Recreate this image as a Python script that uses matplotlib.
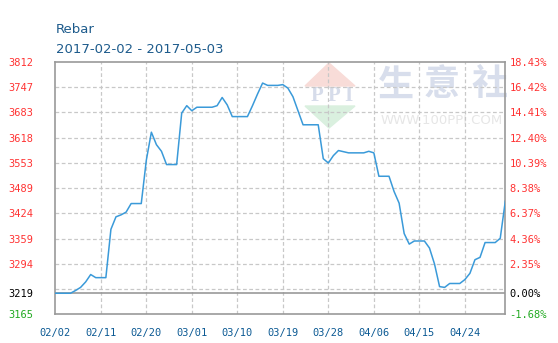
import numpy as np
import matplotlib
matplotlib.use("Agg")
import matplotlib.pyplot as plt
from matplotlib.patches import Polygon

# daily rebar price, 2017-02-02 onward (one value per calendar day)
prices = [
    3219, 3219, 3219, 3219, 3226, 3234, 3248, 3267, 3259, 3259,
    3259, 3383, 3415, 3420, 3427, 3449, 3449, 3449, 3560, 3632,
    3600, 3583, 3549, 3549, 3549, 3681, 3700, 3687, 3696, 3696,
    3696, 3696, 3700, 3721, 3702, 3672, 3672, 3672, 3672, 3700,
    3730, 3758, 3752, 3752, 3752, 3754, 3745, 3723, 3687, 3651,
    3651, 3651, 3651, 3564, 3553, 3572, 3585, 3582, 3579, 3579,
    3579, 3579, 3583, 3579, 3519, 3519, 3519, 3480, 3450, 3372,
    3345, 3353, 3353, 3353, 3335, 3294, 3236, 3234, 3244, 3244,
    3244, 3254, 3270, 3305, 3311, 3349, 3349, 3349, 3360, 3455,
]
base_price = 3219

x_labels = ['02/02', '02/11', '02/20', '03/01', '03/10', '03/19',
            '03/28', '04/06', '04/15', '04/24']
left_labels = ['3165', '3219', '3294', '3359', '3424', '3489',
               '3553', '3618', '3683', '3747', '3812']
right_labels = ['-1.68%', '0.00%', '2.35%', '4.36%', '6.37%', '8.38%',
                '10.39%', '12.40%', '14.41%', '16.42%', '18.43%']

title = 'Rebar'
subtitle = '2017-02-02 - 2017-05-03'

y_lo, y_hi = 3165, 3812
days = np.arange(len(prices))
x_ticks = np.arange(0, len(prices), 9)
y_ticks = [float(v) for v in left_labels]

W, H = 558, 343
fig = plt.figure(figsize=(W / 100, H / 100), dpi=100)
ax = fig.add_axes([55.3 / W, 1 - 314.3 / H, 450 / W, 252.3 / H])

grid_c = '#c8c8c8'
border_c = '#999999'


def px(x, y):
    # pixel position -> figure fraction
    return [x / W, 1 - y / H]


# watermark (logo + site name), under the grid
ft = fig.transFigure
ax.add_patch(Polygon([px(305, 86), px(329, 63), px(355, 86)], closed=True,
                     transform=ft, color='#f8dcd8', zorder=0.5))
ax.add_patch(Polygon([px(305, 106), px(329, 128), px(355, 106)], closed=True,
                     transform=ft, color='#daf0df', zorder=0.5))
for ch, cx in zip('PPI', [317, 334, 348]):
    ax.text(*px(cx, 96.5), ch, transform=ft, ha='center', va='center', fontsize=15,
            family='Liberation Serif', weight='bold', color='#d6dcea', zorder=0.5)
for ch, cx in zip('生意社', [396, 442, 489]):
    t = ax.text(*px(cx, 85), ch, transform=ft, ha='center', va='center', fontsize=26,
                family=['Noto Sans CJK SC', 'DejaVu Sans'], weight='bold',
                color='#d8deec', zorder=0.5)
    t.set_clip_path(ax.patch)
ax.text(*px(441.5, 120), 'WWW.100PPI.COM', transform=ft, ha='center', va='center',
        fontsize=9.5, color='#e6e6e6', zorder=0.5)

# grid
for g in np.linspace(y_lo, y_hi, 11)[1:-1]:
    ax.axhline(g, color=grid_c, lw=0.9, ls=(0, (3, 2)), zorder=1)
for xt in x_ticks[1:]:
    ax.axvline(xt, color=grid_c, lw=0.9, ls=(0, (3, 2)), zorder=1)
ax.axhline(base_price, color=border_c, lw=1.2, zorder=2)

ax.plot(days, prices, color='#3a9ad9', lw=1.1, zorder=3)

ax.set_xlim(0, len(prices) - 1)
ax.set_ylim(y_lo, y_hi)
for s in ax.spines.values():
    s.set_color(border_c)
    s.set_linewidth(1.2)

mono = 'DejaVu Sans Mono'
ax.set_xticks(x_ticks)
ax.set_xticklabels(x_labels, family=mono, fontsize=7.5, color='#0c5a94')
ax.set_yticks(y_ticks)
ax.set_yticklabels(left_labels, family=mono, fontsize=7.5)
ax.tick_params(axis='x', length=0, pad=10)
ax.tick_params(axis='y', length=0, pad=16)

ax2 = ax.twinx()
ax2.set_ylim(y_lo, y_hi)
ax2.set_yticks(y_ticks)
ax2.set_yticklabels(right_labels, family=mono, fontsize=7.5)
ax2.tick_params(axis='y', length=0, pad=3)
for s in ax2.spines.values():
    s.set_visible(False)


def label_color(i):
    if i == 0:
        return '#22aa22'
    if i == 1:
        return '#000000'
    return '#ff3333'


for i, t in enumerate(ax.get_yticklabels()):
    t.set_color(label_color(i))
for i, t in enumerate(ax2.get_yticklabels()):
    t.set_color(label_color(i))

fig.text(56 / W, 1 - 33 / H, title, fontsize=9.5, color='#1d5b8c', va='baseline')
fig.text(56 / W, 1 - 53 / H, subtitle, fontsize=9.5, color='#1d5b8c', va='baseline')

fig.savefig('out.png', dpi=100)
